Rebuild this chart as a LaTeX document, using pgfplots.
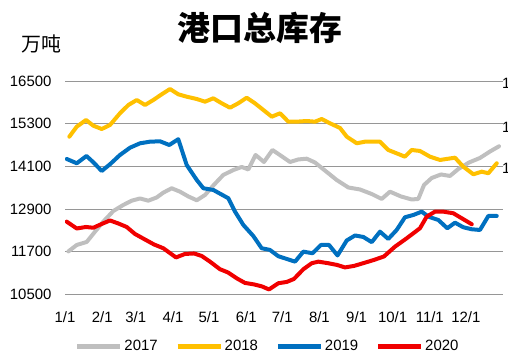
\documentclass[border=0pt]{standalone}
\usepackage{pgfplots}
\pgfplotsset{compat=1.18}
\usepackage{fontspec}
\setmainfont{Liberation Sans}
\newfontfamily\cjk{Noto Sans CJK SC}
\definecolor{c17}{RGB}{191,191,191}
\definecolor{c18}{RGB}{255,192,0}
\definecolor{c19}{RGB}{0,112,192}
\definecolor{c20}{RGB}{240,0,0}
\definecolor{gridc}{RGB}{150,150,150}
\begin{document}
\begin{tikzpicture}
\useasboundingbox (0bp,0bp) rectangle (508bp,-356bp);
\node[font=\cjk\bfseries\fontsize{33}{33}\selectfont] at (260bp,-28bp) {港口总库存};
\node[font=\cjk\fontsize{20}{20}\selectfont] at (41.5bp,-43.5bp) {万吨};
\foreach \yy in {83,127,168} {
  \node[font=\fontsize{15}{15}\selectfont, anchor=west, inner sep=0pt] at (502bp,-\yy bp) {1};
}
\begin{axis}[
  at={(65bp,-294.3bp)}, anchor=south west,
  width=438bp, height=213.3bp, scale only axis,
  xmin=0, xmax=365, ymin=10500, ymax=16500,
  ytick={10500,11700,12900,14100,15300,16500},
  scaled y ticks=false,
  yticklabel style={/pgf/number format/fixed, /pgf/number format/precision=0},
  xtick={0,31,59,90,120,151,181,212,243,273,304,334},
  xticklabels={1/1,2/1,3/1,4/1,5/1,6/1,7/1,8/1,9/1,10/1,11/1,12/1},
  axis line style={draw=none},
  major tick length=0pt,
  ymajorgrids, grid style={gridc, line width=0.9bp},
  tick label style={font=\fontsize{15}{15}\selectfont},
  /pgf/number format/assume math mode=true,
  /pgf/number format/1000 sep={},
  xticklabel shift=14bp, yticklabel shift=10bp,
  legend columns=4,
  legend style={at={(0.4623,-0.2424)}, anchor=center, draw=none, fill=none,
    font=\fontsize{15}{15}\selectfont, nodes={inner sep=1.5bp},
    /tikz/every even column/.append style={column sep=16bp}},
  legend image code/.code={\draw[#1, line width=5bp, line cap=butt] (0bp,0bp) -- (43bp,0bp);},
  every axis plot/.append style={line width=4bp, line join=round, line cap=round, mark=none},
]
\addplot[c17] coordinates {
(2.8,11706)(9.8,11888)(18.1,11973)(25,12262)(31.9,12544)(40.3,12844)(48.6,13013)(55.6,13134)
(62.5,13196)(69.4,13134)(76.4,13224)(81.9,13359)(88.9,13483)(95.8,13387)(102.8,13252)(109.8,13145)
(116.7,13294)(123.6,13561)(131.9,13857)(140.3,13997)(147.3,14082)(152.8,14011)(158.8,14419)(165.8,14222)
(172.9,14560)(180.6,14383)(187.5,14222)(194.4,14293)(201.4,14315)(208.3,14208)(217.1,13969)(226.4,13716)
(236.1,13505)(245.8,13449)(255.6,13322)(263.9,13182)(270.8,13387)(280,13252)(288.9,13168)(294.4,13182)
(299.2,13576)(305.6,13772)(313.3,13871)(320.8,13829)(327.8,14025)(336.7,14208)(345.8,14335)(354.2,14518)
(361.7,14664)
};
\addlegendentry{2017}
\addplot[c18] coordinates {
(3.6,14934)(9.8,15215)(17.5,15403)(23.6,15243)(30.6,15150)(37.5,15263)(45.8,15592)(52.8,15825)
(59.8,15966)(66.7,15825)(73.6,15966)(80.6,16126)(87.5,16275)(94.4,16126)(101.4,16059)(109.8,15994)
(116.7,15918)(123.6,16014)(130.6,15873)(137.5,15749)(144.4,15873)(151.4,16030)(158.3,15873)(165.3,15685)
(172.3,15496)(179.2,15592)(186.1,15356)(193.1,15356)(201.4,15375)(208.3,15356)(213.9,15431)(220.8,15311)
(229.2,15178)(234.8,14934)(243.1,14748)(250,14793)(262.5,14793)(269.4,14560)(283.3,14371)(288.9,14560)
(295.8,14532)(304.2,14371)(312.5,14279)(325,14343)(331.9,14090)(340.3,13876)(347.3,13950)(352.8,13905)
(359.8,14186)
};
\addlegendentry{2018}
\addplot[c19] coordinates {
(1.4,14307)(9.8,14186)(17.9,14391)(23.6,14214)(30.6,13969)(37.5,14158)(45.8,14419)(54.2,14624)
(62.5,14748)(70.8,14793)(79.2,14804)(86.9,14700)(94.4,14863)(101.4,14138)(109.8,13716)(115.3,13483)
(123.6,13435)(136.1,13202)(141.7,12825)(148.6,12451)(156.9,12141)(163.9,11796)(170.8,11748)(177.8,11571)
(191.7,11419)(198.6,11700)(206.3,11655)(213.3,11888)(220,11888)(227.1,11593)(234.8,12015)(241.7,12155)
(248.6,12113)(255.6,11967)(262.5,12262)(269.4,12057)(276.4,12310)(283.3,12667)(290.3,12732)(297.3,12825)
(302.8,12684)(311.1,12591)(318.6,12358)(325,12515)(331.9,12386)(338.9,12330)(345.8,12310)(352.8,12704)
(359.8,12704)
};
\addlegendentry{2019}
\addplot[c20] coordinates {
(1.4,12544)(9.8,12352)(17.5,12394)(23.6,12372)(30.6,12479)(37.5,12577)(44.4,12493)(51.4,12394)
(58.3,12198)(65.8,12057)(74.2,11902)(81.9,11796)(92.5,11537)(100,11635)(107.5,11649)(113.9,11579)
(120.8,11419)(129.2,11205)(135.8,11115)(143.3,10946)(150,10820)(157.5,10778)(164.2,10721)(170,10637)
(177.8,10811)(184.8,10848)(190.8,10932)(198.6,11205)(205.6,11374)(211.1,11419)(219.4,11374)(226.7,11326)
(233.3,11256)(240.8,11298)(249.2,11382)(257.5,11467)(265.8,11565)(275,11841)(284.8,12077)(295.8,12358)
(301.4,12684)(308.3,12825)(315.3,12825)(323.6,12780)(330.6,12639)(339,12470)
};
\addlegendentry{2020}
\end{axis}
\end{tikzpicture}
\end{document}
